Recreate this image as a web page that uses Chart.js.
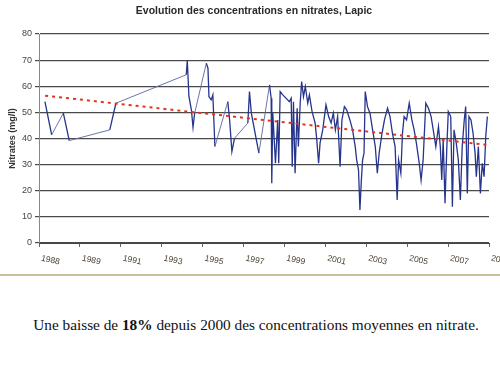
<!DOCTYPE html>
<html>
<head>
<meta charset="utf-8">
<script src="https://cdn.jsdelivr.net/npm/chart.js@4/dist/chart.umd.min.js"></script>
<style>
  html, body { margin: 0; padding: 0; background: #fff; width: 500px; height: 375px; overflow: hidden; }
  #chart { position: absolute; left: 0; top: 0; }
  #caption {
    position: absolute; left: 0; top: 316px; width: 512px; text-align: center;
    font-family: "Liberation Serif", "Times New Roman", serif; font-size: 15.3px; color: #111;
  }
</style>
</head>
<body>
<canvas id="chart" width="500" height="278"></canvas>
<div id="caption">Une baisse de <b>18%</b> depuis 2000 des concentrations moyennes en nitrate.</div>
<script>
// sample dates (decimal years) and nitrate values
const sampleYears = [
  1988.29, 1988.62, 1989.19, 1989.48, 1991.46, 1991.76, 1995.20, 1995.25, 1995.33, 1995.45,
  1995.53, 1995.61, 1996.18, 1996.26, 1996.31, 1996.42, 1996.50, 1996.60, 1997.23, 1997.32,
  1997.43, 1997.56, 1998.21, 1998.29, 1998.38, 1998.75, 1999.27, 1999.35, 1999.38, 1999.43,
  1999.56, 1999.67, 1999.72, 1999.79, 1999.92, 2000.24, 2000.33, 2000.38, 2000.44, 2000.52,
  2000.62, 2000.68, 2000.77, 2000.84, 2000.93, 2001.02, 2001.14, 2001.22, 2001.35, 2001.50,
  2001.58, 2001.67, 2001.74, 2001.87, 2002.03, 2002.16, 2002.28, 2002.39, 2002.49, 2002.60,
  2002.72, 2002.81, 2002.93, 2003.04, 2003.20, 2003.33, 2003.46, 2003.53, 2003.62, 2003.69,
  2003.76, 2003.82, 2003.89, 2003.95, 2004.06, 2004.18, 2004.31, 2004.44, 2004.54, 2004.63,
  2004.77, 2004.89, 2005.04, 2005.16, 2005.28, 2005.41, 2005.51, 2005.58, 2005.69, 2005.77,
  2005.85, 2005.97, 2006.10, 2006.23, 2006.34, 2006.45, 2006.59, 2006.68, 2006.78, 2006.84,
  2006.91, 2007.04, 2007.17, 2007.30, 2007.40, 2007.53, 2007.62, 2007.69, 2007.76, 2007.85,
  2007.94, 2008.01, 2008.13, 2008.21, 2008.29, 2008.40, 2008.50, 2008.60, 2008.69, 2008.79,
  2008.86, 2008.94, 2009.02, 2009.12, 2009.22, 2009.32, 2009.38, 2009.48, 2009.58, 2009.67,
  2009.76, 2009.84, 2009.92
]
const nitrates = [
  54.1, 41.4, 49.7, 39.2, 43.3, 53.5, 64.4, 69.8, 56.1, 51.0,
  44.3, 49.7, 68.8, 66.9, 56.0, 54.8, 56.7, 36.9, 54.1, 47.1,
  35.0, 40.1, 45.9, 58.0, 49.7, 34.4, 60.5, 55.4, 22.9, 49.7,
  30.5, 47.1, 30.5, 58.0, 56.7, 54.1, 55.4, 29.2, 54.1, 26.7,
  51.6, 36.9, 53.5, 61.8, 56.0, 59.9, 53.5, 56.7, 50.3, 45.9,
  39.5, 30.5, 38.2, 43.3, 52.9, 48.4, 45.9, 49.7, 43.3, 48.4,
  29.2, 47.1, 52.2, 51.0, 47.1, 43.3, 36.9, 31.8, 28.0, 12.6,
  24.1, 31.8, 34.4, 58.0, 52.2, 49.7, 43.3, 36.9, 26.7, 34.4,
  42.0, 47.1, 51.6, 48.4, 42.0, 36.9, 16.5, 31.8, 26.7, 42.0,
  48.4, 47.1, 53.5, 47.1, 43.3, 38.2, 30.5, 24.1, 31.8, 42.0,
  53.5, 51.6, 48.4, 42.0, 36.9, 44.6, 36.9, 24.1, 39.5, 15.2,
  36.9, 50.3, 48.4, 13.9, 43.3, 38.2, 31.8, 16.5, 36.9, 47.1,
  52.2, 19.0, 48.4, 47.1, 42.0, 34.4, 25.4, 36.9, 19.0, 30.5,
  25.4, 40.7, 48.4
]

// linear trend (red dotted)
const trendYears = [1988.3, 2009.98]
const trendValues = [56.4, 37.5]

// axes
const xTickYears = [1988, 1990, 1992, 1994, 1996, 1998, 2000, 2002, 2004, 2006, 2008, 2010]
const xTickLabels = ["1988", "1989", "1991", "1993", "1995", "1997", "1999", "2001", "2003", "2005", "2007", "2009"]
const yMin = 0
const yMax = 80
const yStep = 10

const chartTitle = "Evolution des concentrations en nitrates, Lapic"
const yTitle = "Nitrates (mg/l)"

const decor = {
  id: "decor",
  afterDraw(chart) {
    const ctx = chart.ctx
    const xs = chart.scales.x
    ctx.save()
    // title
    ctx.fillStyle = "#2a2a2a"
    ctx.font = "bold 10.5px 'Liberation Sans', Arial, sans-serif"
    ctx.textAlign = "center"
    ctx.textBaseline = "middle"
    ctx.fillText(chartTitle, 254, 11)
    // slanted year labels
    ctx.fillStyle = "#4d4535"
    ctx.font = "8.5px 'Liberation Sans', Arial, sans-serif"
    ctx.textAlign = "left"
    ctx.textBaseline = "top"
    xTickYears.forEach((v, i) => {
      const px = xs.getPixelForValue(v)
      ctx.save()
      ctx.translate(px + 3, 254)
      ctx.rotate(12 * Math.PI / 180)
      ctx.fillText(xTickLabels[i], 0, 0)
      ctx.restore()
    })
    // bottom rule of the pasted picture
    ctx.strokeStyle = "#c8bf9c"
    ctx.lineWidth = 2
    ctx.beginPath()
    ctx.moveTo(0, 275)
    ctx.lineTo(500, 275)
    ctx.stroke()
    ctx.restore()
  },
}

// sparse early samples are drawn lighter, like the scan
const sparse = (c) => c.p1.parsed.x - c.p0.parsed.x > 0.5

new Chart(document.getElementById("chart"), {
  type: "line",
  data: {
    datasets: [
      {
        label: "Nitrates",
        data: sampleYears.map((x, i) => ({ x, y: nitrates[i] })),
        borderColor: "#26348c",
        borderWidth: 1.3,
        pointRadius: 0,
        tension: 0,
        order: 2,
        segment: {
          borderColor: (c) => (sparse(c) ? "#5b679e" : undefined),
          borderWidth: (c) => (sparse(c) ? 0.9 : undefined),
        },
      },
      {
        label: "Tendance",
        data: trendYears.map((x, i) => ({ x, y: trendValues[i] })),
        borderColor: "#e2351f",
        borderWidth: 2,
        borderDash: [3, 4],
        pointRadius: 0,
        order: 1,
      },
    ],
  },
  options: {
    responsive: false,
    animation: false,
    devicePixelRatio: 1,
    layout: { padding: { top: 34, right: 11, bottom: 0, left: 0 } },
    plugins: {
      legend: { display: false },
      title: { display: false },
      tooltip: { enabled: false },
    },
    scales: {
      x: {
        type: "linear",
        min: 1988,
        max: 2010,
        afterBuildTicks: (scale) => { scale.ticks = xTickYears.map((v) => ({ value: v })) },
        afterFit: (scale) => { scale.height = 35 },
        ticks: { display: false },
        grid: { drawOnChartArea: false, drawTicks: true, tickLength: 4, color: "#666" },
        border: { color: "#444", width: 1 },
      },
      y: {
        min: yMin,
        max: yMax,
        afterFit: (scale) => { scale.width = 39 },
        ticks: {
          stepSize: yStep,
          color: "#444",
          padding: 3,
          font: { family: "'Liberation Sans', Arial, sans-serif", size: 9 },
        },
        grid: { color: "#4a4a4a", lineWidth: 1.2, tickLength: 4 },
        border: { color: "#888", width: 1 },
        title: {
          display: true,
          text: yTitle,
          color: "#333",
          padding: { top: 7, bottom: 0 },
          font: { family: "'Liberation Sans', Arial, sans-serif", size: 9, weight: "bold" },
        },
      },
    },
  },
  plugins: [decor],
})
</script>
</body>
</html>
